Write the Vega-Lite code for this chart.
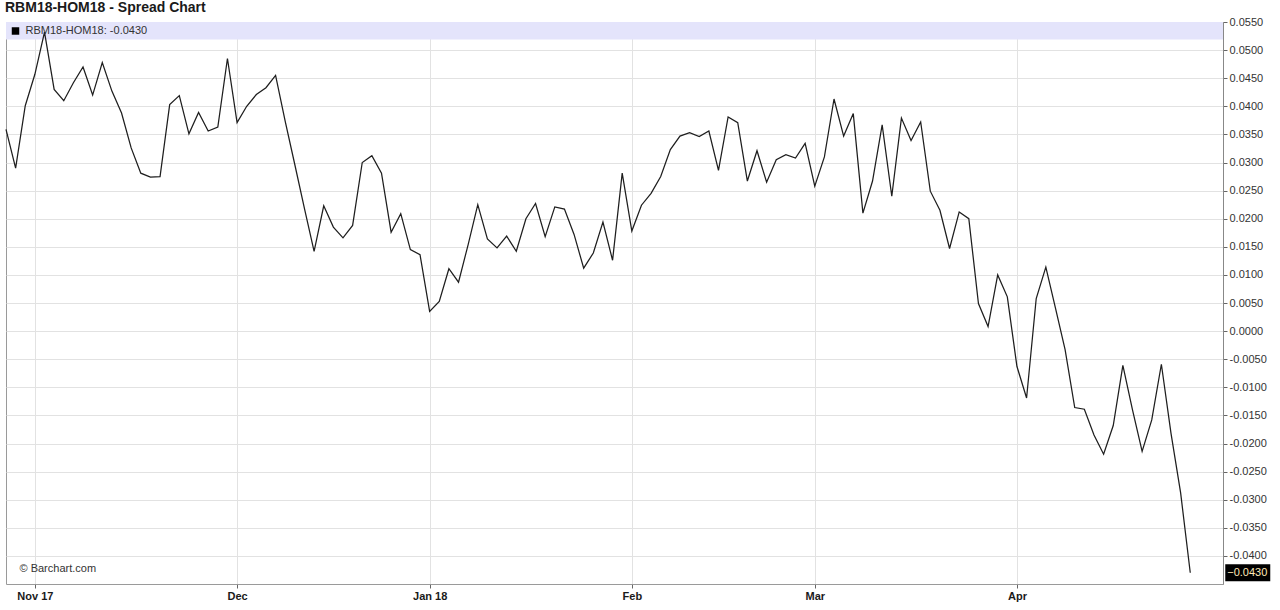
{
  "$schema": "https://vega.github.io/schema/vega-lite/v6.json",
  "autosize": {"type": "none"},
  "padding": {"left": 6, "top": 22, "right": 57, "bottom": 26},
  "width": 1217,
  "height": 562,
  "background": "#ffffff",
  "config": {
    "font": "Liberation Sans",
    "view": {"stroke": "#9a9a9a", "strokeWidth": 1},
    "axisY": {
      "title": null,
      "orient": "right",
      "labelFontSize": 11,
      "labelColor": "#333333",
      "labelPadding": 2,
      "labelOverlap": false,
      "tickSize": 4,
      "tickColor": "#666666",
      "domain": true,
      "domainColor": "#888888",
      "grid": true,
      "gridColor": "#e2e2e2",
      "gridWidth": 1
    }
  },
  "title": {
    "text": "RBM18-HOM18 - Spread Chart",
    "anchor": "start",
    "frame": "group",
    "fontSize": 14,
    "fontWeight": "bold",
    "font": "Liberation Sans",
    "color": "#1a1a1a",
    "baseline": "alphabetic",
    "offset": 0,
    "dy": 10,
    "dx": -1
  },
  "datasets": {
    "spread": [
      {"date": "2017-10-27", "value": 0.0359},
      {"date": "2017-10-30", "value": 0.0290},
      {"date": "2017-10-31", "value": 0.0401},
      {"date": "2017-11-01", "value": 0.0457},
      {"date": "2017-11-02", "value": 0.0532},
      {"date": "2017-11-03", "value": 0.0430},
      {"date": "2017-11-06", "value": 0.0410},
      {"date": "2017-11-07", "value": 0.0442},
      {"date": "2017-11-08", "value": 0.0470},
      {"date": "2017-11-09", "value": 0.0420},
      {"date": "2017-11-10", "value": 0.0478},
      {"date": "2017-11-13", "value": 0.0427},
      {"date": "2017-11-14", "value": 0.0388},
      {"date": "2017-11-15", "value": 0.0326},
      {"date": "2017-11-16", "value": 0.0281},
      {"date": "2017-11-17", "value": 0.0274},
      {"date": "2017-11-20", "value": 0.0275},
      {"date": "2017-11-21", "value": 0.0403},
      {"date": "2017-11-22", "value": 0.0419},
      {"date": "2017-11-24", "value": 0.0351},
      {"date": "2017-11-27", "value": 0.0389},
      {"date": "2017-11-28", "value": 0.0356},
      {"date": "2017-11-29", "value": 0.0363},
      {"date": "2017-11-30", "value": 0.0485},
      {"date": "2017-12-01", "value": 0.0371},
      {"date": "2017-12-04", "value": 0.0400},
      {"date": "2017-12-05", "value": 0.0421},
      {"date": "2017-12-06", "value": 0.0433},
      {"date": "2017-12-07", "value": 0.0455},
      {"date": "2017-12-08", "value": 0.0373},
      {"date": "2017-12-11", "value": 0.0296},
      {"date": "2017-12-12", "value": 0.0218},
      {"date": "2017-12-13", "value": 0.0142},
      {"date": "2017-12-14", "value": 0.0223},
      {"date": "2017-12-15", "value": 0.0185},
      {"date": "2017-12-18", "value": 0.0166},
      {"date": "2017-12-19", "value": 0.0188},
      {"date": "2017-12-20", "value": 0.0300},
      {"date": "2017-12-21", "value": 0.0312},
      {"date": "2017-12-22", "value": 0.0281},
      {"date": "2017-12-26", "value": 0.0176},
      {"date": "2017-12-27", "value": 0.0209},
      {"date": "2017-12-28", "value": 0.0145},
      {"date": "2017-12-29", "value": 0.0136},
      {"date": "2018-01-02", "value": 0.0035},
      {"date": "2018-01-03", "value": 0.0053},
      {"date": "2018-01-04", "value": 0.0111},
      {"date": "2018-01-05", "value": 0.0087},
      {"date": "2018-01-08", "value": 0.0154},
      {"date": "2018-01-09", "value": 0.0225},
      {"date": "2018-01-10", "value": 0.0164},
      {"date": "2018-01-11", "value": 0.0148},
      {"date": "2018-01-12", "value": 0.0169},
      {"date": "2018-01-16", "value": 0.0142},
      {"date": "2018-01-17", "value": 0.0200},
      {"date": "2018-01-18", "value": 0.0227},
      {"date": "2018-01-19", "value": 0.0168},
      {"date": "2018-01-22", "value": 0.0221},
      {"date": "2018-01-23", "value": 0.0217},
      {"date": "2018-01-24", "value": 0.0172},
      {"date": "2018-01-25", "value": 0.0112},
      {"date": "2018-01-26", "value": 0.0139},
      {"date": "2018-01-29", "value": 0.0194},
      {"date": "2018-01-30", "value": 0.0126},
      {"date": "2018-01-31", "value": 0.0281},
      {"date": "2018-02-01", "value": 0.0178},
      {"date": "2018-02-02", "value": 0.0224},
      {"date": "2018-02-05", "value": 0.0245},
      {"date": "2018-02-06", "value": 0.0275},
      {"date": "2018-02-07", "value": 0.0323},
      {"date": "2018-02-08", "value": 0.0347},
      {"date": "2018-02-09", "value": 0.0353},
      {"date": "2018-02-12", "value": 0.0346},
      {"date": "2018-02-13", "value": 0.0356},
      {"date": "2018-02-14", "value": 0.0286},
      {"date": "2018-02-15", "value": 0.0381},
      {"date": "2018-02-16", "value": 0.0371},
      {"date": "2018-02-20", "value": 0.0267},
      {"date": "2018-02-21", "value": 0.0321},
      {"date": "2018-02-22", "value": 0.0265},
      {"date": "2018-02-23", "value": 0.0305},
      {"date": "2018-02-26", "value": 0.0314},
      {"date": "2018-02-27", "value": 0.0308},
      {"date": "2018-02-28", "value": 0.0334},
      {"date": "2018-03-01", "value": 0.0258},
      {"date": "2018-03-02", "value": 0.0310},
      {"date": "2018-03-05", "value": 0.0413},
      {"date": "2018-03-06", "value": 0.0347},
      {"date": "2018-03-07", "value": 0.0387},
      {"date": "2018-03-08", "value": 0.0210},
      {"date": "2018-03-09", "value": 0.0267},
      {"date": "2018-03-12", "value": 0.0367},
      {"date": "2018-03-13", "value": 0.0240},
      {"date": "2018-03-14", "value": 0.0379},
      {"date": "2018-03-15", "value": 0.0339},
      {"date": "2018-03-16", "value": 0.0372},
      {"date": "2018-03-19", "value": 0.0249},
      {"date": "2018-03-20", "value": 0.0215},
      {"date": "2018-03-21", "value": 0.0147},
      {"date": "2018-03-22", "value": 0.0212},
      {"date": "2018-03-23", "value": 0.0200},
      {"date": "2018-03-26", "value": 0.0049},
      {"date": "2018-03-27", "value": 0.0008},
      {"date": "2018-03-28", "value": 0.0100},
      {"date": "2018-03-29", "value": 0.0061},
      {"date": "2018-04-02", "value": -0.0063},
      {"date": "2018-04-03", "value": -0.0119},
      {"date": "2018-04-04", "value": 0.0058},
      {"date": "2018-04-05", "value": 0.0114},
      {"date": "2018-04-06", "value": 0.0041},
      {"date": "2018-04-09", "value": -0.0033},
      {"date": "2018-04-10", "value": -0.0136},
      {"date": "2018-04-11", "value": -0.0139},
      {"date": "2018-04-12", "value": -0.0185},
      {"date": "2018-04-13", "value": -0.0219},
      {"date": "2018-04-16", "value": -0.0168},
      {"date": "2018-04-17", "value": -0.0061},
      {"date": "2018-04-18", "value": -0.0140},
      {"date": "2018-04-19", "value": -0.0214},
      {"date": "2018-04-20", "value": -0.0158},
      {"date": "2018-04-23", "value": -0.0059},
      {"date": "2018-04-24", "value": -0.0182},
      {"date": "2018-04-25", "value": -0.0288},
      {"date": "2018-04-26", "value": -0.0430}
    ],
    "notes": [
      {"label": "RBM18-HOM18: -0.0430", "date": "2017-10-27", "level": 0.0534, "kind": "legend"},
      {"label": "© Barchart.com", "date": "2017-10-27", "level": -0.0423, "kind": "credit"}
    ],
    "band": [
      {"top": 0.055, "bottom": 0.0519}
    ]
  },
  "data": {"name": "spread"},
  "encoding": {
    "y": {
      "field": "value",
      "type": "quantitative",
      "scale": {"domain": [-0.045, 0.055], "nice": false, "zero": false},
      "axis": {
        "values": [-0.04, -0.035, -0.03, -0.025, -0.02, -0.015, -0.01, -0.005, 0, 0.005, 0.01, 0.015, 0.02, 0.025, 0.03, 0.035, 0.04, 0.045, 0.05, 0.055],
        "labelExpr": "replace(format(datum.value, '.4f'), '\u2212', '-')"
      }
    }
  },
  "layer": [
    {
      "data": {"name": "band"},
      "mark": {"type": "rect", "color": "#e4e4fb", "opacity": 1},
      "encoding": {
        "y": {
          "field": "top",
          "type": "quantitative",
          "scale": {"domain": [-0.045, 0.055], "nice": false, "zero": false},
          "axis": {
            "values": [-0.04, -0.035, -0.03, -0.025, -0.02, -0.015, -0.01, -0.005, 0, 0.005, 0.01, 0.015, 0.02, 0.025, 0.03, 0.035, 0.04, 0.045, 0.05, 0.055],
            "labelExpr": "replace(format(datum.value, '.4f'), '\u2212', '-')"
          }
        },
        "y2": {"field": "bottom"}
      }
    },
    {
      "mark": {"type": "line", "color": "#1e1e1e", "strokeWidth": 1.25, "interpolate": "linear"},
      "encoding": {
        "x": {
          "field": "date",
          "type": "ordinal",
          "sort": "ascending",
          "scale": {"type": "point", "padding": 0.7, "align": 0, "domain": {"unionWith": ["2018-04-27", "2018-04-30"]}},
          "axis": {
            "title": null,
            "orient": "bottom",
            "values": ["2017-11-01", "2017-12-01", "2018-01-02", "2018-02-01", "2018-03-01", "2018-04-02"],
            "labelExpr": "{'2017-11-01': 'Nov 17', '2017-12-01': 'Dec', '2018-01-02': 'Jan 18', '2018-02-01': 'Feb', '2018-03-01': 'Mar', '2018-04-02': 'Apr'}[datum.value]",
            "labelAngle": 0,
            "labelFontSize": 11,
            "labelFontWeight": "bold",
            "labelColor": "#1a1a1a",
            "labelPadding": 2,
            "tickSize": 4,
            "tickColor": "#666666",
            "domain": false,
            "grid": true,
            "gridColor": "#e2e2e2",
            "gridWidth": 1
          }
        }
      }
    },
    {
      "data": {"name": "notes"},
      "transform": [{"filter": "datum.kind == 'legend'"}],
      "mark": {"type": "point", "shape": "square", "filled": true, "color": "#000000", "opacity": 1, "size": 56, "xOffset": 9.5, "clip": false},
      "encoding": {
        "x": {"field": "date", "type": "ordinal"},
        "y": {"field": "level", "type": "quantitative", "axis": {"values": [-0.04, -0.035, -0.03, -0.025, -0.02, -0.015, -0.01, -0.005, 0, 0.005, 0.01, 0.015, 0.02, 0.025, 0.03, 0.035, 0.04, 0.045, 0.05, 0.055], "labelExpr": "replace(format(datum.value, '.4f'), '\u2212', '-')"}}
      }
    },
    {
      "data": {"name": "notes"},
      "transform": [{"filter": "datum.kind == 'legend'"}],
      "mark": {"type": "text", "align": "left", "baseline": "middle", "fontSize": 11, "color": "#333333", "xOffset": 19.5, "clip": false},
      "encoding": {
        "x": {"field": "date", "type": "ordinal"},
        "y": {"field": "level", "type": "quantitative", "axis": {"values": [-0.04, -0.035, -0.03, -0.025, -0.02, -0.015, -0.01, -0.005, 0, 0.005, 0.01, 0.015, 0.02, 0.025, 0.03, 0.035, 0.04, 0.045, 0.05, 0.055], "labelExpr": "replace(format(datum.value, '.4f'), '\u2212', '-')"}},
        "text": {"field": "label"}
      }
    },
    {
      "data": {"name": "notes"},
      "transform": [{"filter": "datum.kind == 'credit'"}],
      "mark": {"type": "text", "align": "left", "baseline": "middle", "fontSize": 11, "color": "#333333", "xOffset": 13.5, "clip": false},
      "encoding": {
        "x": {"field": "date", "type": "ordinal"},
        "y": {"field": "level", "type": "quantitative", "axis": {"values": [-0.04, -0.035, -0.03, -0.025, -0.02, -0.015, -0.01, -0.005, 0, 0.005, 0.01, 0.015, 0.02, 0.025, 0.03, 0.035, 0.04, 0.045, 0.05, 0.055], "labelExpr": "replace(format(datum.value, '.4f'), '\u2212', '-')"}},
        "text": {"field": "label"}
      }
    },
    {
      "transform": [{"filter": "datum.date == '2018-04-26'"}],
      "mark": {"type": "rule", "color": "#000000", "strokeWidth": 17, "xOffset": 35, "x2Offset": 80, "clip": false},
      "encoding": {
        "x": {"field": "date", "type": "ordinal"},
        "x2": {"field": "date"}
      }
    },
    {
      "transform": [{"filter": "datum.date == '2018-04-26'"}],
      "mark": {"type": "text", "align": "left", "baseline": "middle", "fontSize": 11, "color": "#ffe9b8", "xOffset": 37, "clip": false},
      "encoding": {
        "x": {"field": "date", "type": "ordinal"},
        "text": {"field": "value", "type": "quantitative", "format": ".4f"}
      }
    }
  ]
}
